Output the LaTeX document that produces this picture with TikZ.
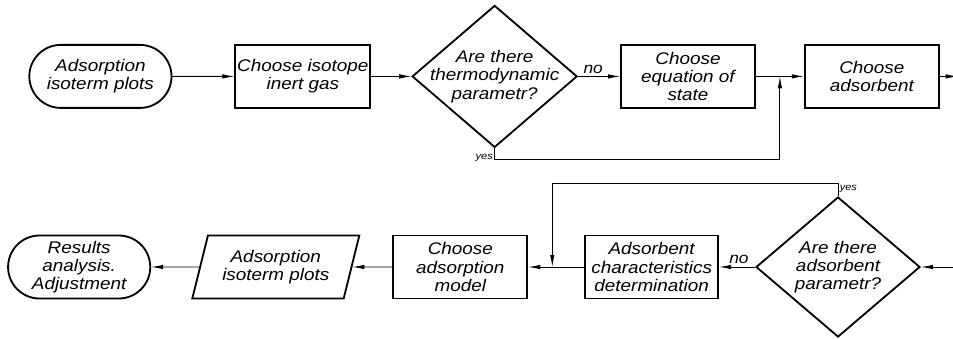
\documentclass[tikz,border=0pt]{standalone}
\usepackage{fontspec}
\setmainfont{Liberation Sans}[FakeStretch=1.12]
\usetikzlibrary{shapes.geometric,shapes.misc,arrows.meta,positioning,calc}

\begin{document}
\begin{tikzpicture}[
      every node/.style={font=\fontsize{12}{13}\selectfont\itshape},
      box/.style={draw, line width=1.3pt, align=center, inner sep=1pt,
                  minimum height=1.575cm, minimum width=3.35cm},
      term/.style={box, rounded rectangle, minimum width=3.625cm},
      io/.style={box, trapezium, trapezium left angle=67, trapezium right angle=113,
                 trapezium stretches body, minimum width=4.175cm},
      decision/.style={draw, diamond, line width=1.3pt, inner sep=0pt,
                       minimum width=4.125cm, minimum height=3.55cm},
      small/.style={font=\fontsize{7}{8}\selectfont\itshape, inner sep=1pt},
      tag/.style={font=\fontsize{11}{12}\selectfont\itshape, inner sep=2pt},
      arrow/.style={-{Latex[length=3mm,width=1.1mm]}, line width=0.6pt},
      line/.style={line width=0.6pt}
    ]
    \useasboundingbox (0,0) rectangle (23.825,-8.45);

    % upper row
    \node[term] (plots) at (2.51,-1.91) {Adsorption\\isoterm plots};
    \node[box, right=1.55cm of plots, minimum width=3.375cm] (gas) {Choose isotope\\inert gas};
    \node[decision, right=1cm of gas,
          label={[align=center]center:Are there\\thermodynamic\\parametr?}] (thermo) {};
    \node[box, right=1.05cm of thermo] (eos) {Choose\\equation of\\state};
    \node[box, right=1.2cm of eos] (sorb) {Choose\\adsorbent};
    \coordinate (j1)  at ($(eos.east)+(0.6,0)$);
    \coordinate (out) at ($(sorb.east)+(0.45,0)$);

    % lower row
    \node[decision, minimum width=4.1cm, minimum height=3.5cm,
          label={[align=center]center:Are there\\adsorbent\\parametr?}] (sorbq) at (20.95,-6.675) {};
    \node[box, left=0.9cm of sorbq, minimum width=3.325cm] (chars) {Adsorbent\\characteristics\\determination};
    \node[box, left=1.4cm of chars] (model) {Choose\\adsorption\\model};
    \node[io, left=1.0cm of model] (iso) {Adsorption\\isoterm plots};
    \node[term, left=1.2cm of iso] (result) {Results\\analysis.\\Adjustment};
    \coordinate (j2) at ($(model.east)+(0.6,0)$);
    \coordinate (in) at ($(sorbq.east)+(0.85,0)$);

    \draw[arrow] (plots)  -- (gas);
    \draw[arrow] (gas)    -- (thermo);
    \draw[arrow] (thermo.east) -- node[tag, above, pos=0.36] {no} (eos);
    \draw[line]  (eos)    -- (j1);
    \draw[arrow] (j1)     -- (sorb);
    \draw[arrow] (thermo.south) -- ++(0,-0.275) node[small, anchor=east, yshift=1pt] {yes} -| (j1);
    \draw[arrow] (sorb)   -- (out);

    \draw[arrow] (in)     -- (sorbq.east);
    \draw[arrow] (sorbq.west) -- node[tag, above, pos=0.45] {no} (chars);
    \draw[line]  (chars)  -- (j2);
    \draw[arrow] (j2)     -- (model);
    \draw[arrow] (sorbq.north) -- ++(0,0.325) node[small, anchor=north west] {yes} -| (j2);
    \draw[arrow] (model)  -- (iso);
    \draw[arrow] (iso)    -- (result);
  \end{tikzpicture}
\end{document}
